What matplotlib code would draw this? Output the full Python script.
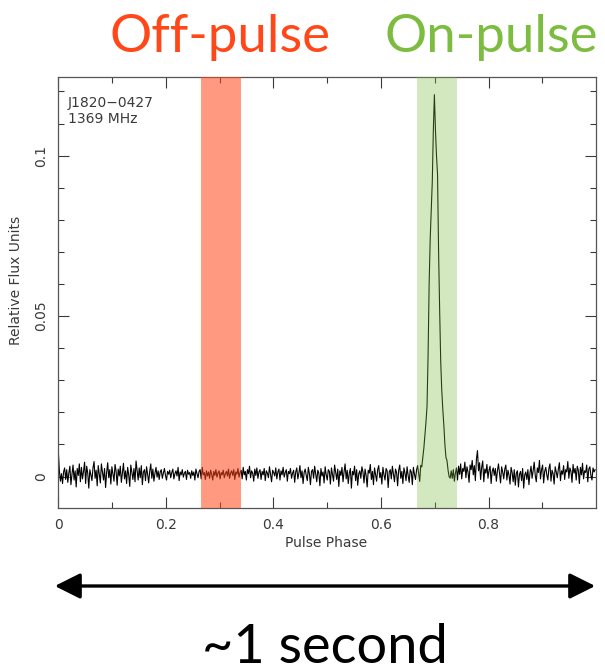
"""Pulse profile of J1820-0427 with off-pulse / on-pulse windows marked."""
import matplotlib
matplotlib.use("Agg")
import matplotlib.pyplot as plt
from matplotlib.patches import FancyArrowPatch
import numpy as np

# ------------------------------------------------------------------ data
# baseline noise per phase bin (512 bins over one rotation), units of 1.8e-4
noise = [
    44, 10, -8, 5, -12, 8, 15, -5, 12, -10, 6, 18, -14, 4, 20, -6, 10, -18, 14, 2, 22, -9, 16, -4, 9, 25, -12, 18, 6, -20, 12, 3,
    -7, 15, 26, -3, 11, -16, 19, 4, -11, 22, 8, -6, 14, -19, 7, 24, -2, 12, -13, 17, 5, -8, 21, 9, -15, 13, 1, 18, -10, 6, 23, -4,
    10, -12, 16, 3, -17, 20, 7, -5, 14, -9, 27, 11, -6, 15, -2, 19, -14, 8, 12, -7, 17, 4, -11, 9, 22, -3, 13, -8, 6, 16, -1, 10,
    -5, 8, 12, -3, 6, 14, 2, -6, 9, 4, 11, -2, 7, 13, -4, 5, 10, 1, 16, -7, 8, 3, 12, -1, 6, 9, -5, 11, 4, 7, -3, 10,
    2, 8, -6, 13, 5, -2, 9, 12, -4, 16, 3, 7, -5, 10, 1, 8, -3, 11, 4, -6, 9, 2, 12, -1, 6, 10, -4, 7, 3, 11, -2, 5,
    9, 1, 13, -3, 6, 10, 2, 12, -5, 8, 4, 14, -1, 7, 11, -4, 16, 3, 9, -6, 12, 5, 18, -2, 10, 6, -8, 13, 2, 15, -3, 8,
    12, -5, 9, 3, 14, -7, 10, 6, -2, 17, 4, -9, 11, 7, 1, 15, -4, 8, 13, -6, 10, 3, 16, -1, 7, 12, -8, 9, 5, 14, -3, 6,
    11, -10, 8, 15, -4, 6, 19, -2, 10, -12, 7, 13, 2, -7, 16, 5, -14, 9, 12, -3, 18, 4, -9, 11, 6, -16, 14, 1, 8, -11, 17, 3,
    -6, 12, 9, -13, 15, 4, -8, 20, 7, -5, 13, -17, 10, 2, 16, -9, 8, 22, -4, 11, -12, 6, 14, -20, 9, 3, 18, -7, 12, -15, 5, 10,
    -3, 17, 8, -11, 13, 2, -18, 11, 6, 21, -5, 9, -14, 15, 4, -8, 12, 19, -2, 7, -13, 16, 3, -6, 14, 10, -19, 8, 12, -4, 18, 5,
    -9, 13, 7, -16, 11, 20, -3, 9, -12, 15, 6, -7, 17, 2, -10, 12, 8, -14, 16, 4, -5, 11, 19, 0, 0, 0, 0, 0, 0, 0, 0, 0,
    0, 0, 0, 0, 0, 0, 0, 0, 0, 0, 0, 0, 0, 0, 0, 0, 0, 0, 0, 0, 0, 0, 10, -3, 12, -8, 6, 15, -6, 18, 4, 22,
    -4, 14, 9, 25, -2, 17, 8, -10, 20, 12, 28, 3, 19, -7, 30, 45, 10, 24, -5, 16, 27, -9, 13, 6, 21, -3, 11, 18, -12, 9, 15, 2,
    14, -8, 10, 22, 5, -11, 17, 8, -4, 13, 20, -6, 11, 3, -13, 16, 7, -9, 12, -15, 6, 10, -18, 4, 9, -7, 14, -20, 3, 8, -5, 12,
    -14, 6, 18, -3, 10, 25, 2, -9, 15, 7, 28, -4, 12, 20, -11, 9, 16, 3, -6, 14, 22, -8, 11, 5, -13, 17, 8, -2, 13, 24, -7, 10,
    4, 19, -5, 12, 8, 26, -3, 15, 9, -10, 21, 6, 14, -6, 18, 11, -12, 16, 3, 23, -4, 10, 7, 20, -9, 13, 17, 2, -6, 15, 8, 12,
]
# the pulse itself, bins 343..373, units of 1e-4
pulse_start = 343
pulse = [10, -15, 35, 30, 60, 90, 130, 170, 220, 380, 600, 740, 830, 920, 1080,
         1190, 1080, 1000, 940, 700, 520, 360, 270, 210, 160, 100, 60, 50, 20,
         0, -5]
off_window = (0.266, 0.340)
on_window = (0.666, 0.741)
x_ticks = [0, 0.2, 0.4, 0.6, 0.8]
x_ticklabels = ["0", "0.2", "0.4", "0.6", "0.8"]
y_ticks = [0, 0.05, 0.1]
y_ticklabels = ["0", "0.05", "0.1"]

assert len(noise) == 512
flux = np.array(noise) * 1.8e-4
flux[pulse_start:pulse_start + len(pulse)] = np.array(pulse) * 1e-4
phase = np.arange(len(flux)) / len(flux)

RED = "#ff4719"
GREEN = "#7cbc3f"
INK = "#3a3a3a"

# ------------------------------------------------------------------ figure
fig = plt.figure(figsize=(6.05, 6.72), dpi=100)
ax = fig.add_axes([0.0964, 0.244, 0.889, 0.6414])

ax.plot(phase, flux, color="black", lw=0.8, zorder=2)
# windows sit on top of the trace, so it shows through tinted
ax.axvspan(*off_window, color=RED, alpha=0.55, lw=0, zorder=3)
ax.axvspan(*on_window, color=GREEN, alpha=0.33, lw=0, zorder=3)

ax.set_xlim(0, 1.0)
ax.set_ylim(-0.0098, 0.1245)
ax.set_xticks(x_ticks)
ax.set_xticklabels(x_ticklabels)
ax.set_xticks(np.arange(0.1, 1.0, 0.2), minor=True)
ax.set_yticks(y_ticks)
ax.set_yticklabels(y_ticklabels, rotation=90, va="center")
ax.set_yticks(np.arange(0.01, 0.125, 0.01), minor=True)
ax.tick_params(which="both", direction="in", top=True, right=True,
               colors=INK, labelsize=10, width=0.8)
ax.tick_params(which="major", length=8, pad=7)
ax.tick_params(which="minor", length=4)
for s in ax.spines.values():
    s.set_color("#555555")
    s.set_linewidth(0.9)

fig.text(0.539, 1 - 543 / 672, "Pulse Phase", ha="center", va="center",
         fontsize=10, color=INK)
fig.text(16 / 605, 1 - 280 / 672, "Relative Flux Units", rotation=90,
         ha="center", va="center", fontsize=10, color=INK)
ax.text(0.018, 0.955, "J1820\u22120427\n1369 MHz", transform=ax.transAxes,
        ha="left", va="top", fontsize=10, color=INK, linespacing=1.15)

# headline labels + the one-second span arrow
fig.text(220 / 605, 1 - 52 / 672, "Off-pulse", color=RED, fontsize=38,
         family="Lato", ha="center", va="baseline")
fig.text(491 / 605, 1 - 52 / 672, "On-pulse", color=GREEN, fontsize=38,
         family="Lato", ha="center", va="baseline")
fig.patches.append(FancyArrowPatch(
    (52 / 605, 1 - 586 / 672), (598 / 605, 1 - 586 / 672),
    transform=fig.transFigure,
    arrowstyle="<|-|>,head_length=1.2,head_width=0.6",
    mutation_scale=13, color="black", lw=2.4))
fig.text(325 / 605, 1 - 663 / 672, "~1 second", color="black", fontsize=39,
         family="Lato", ha="center", va="baseline")

fig.savefig("out.png", dpi=100)
